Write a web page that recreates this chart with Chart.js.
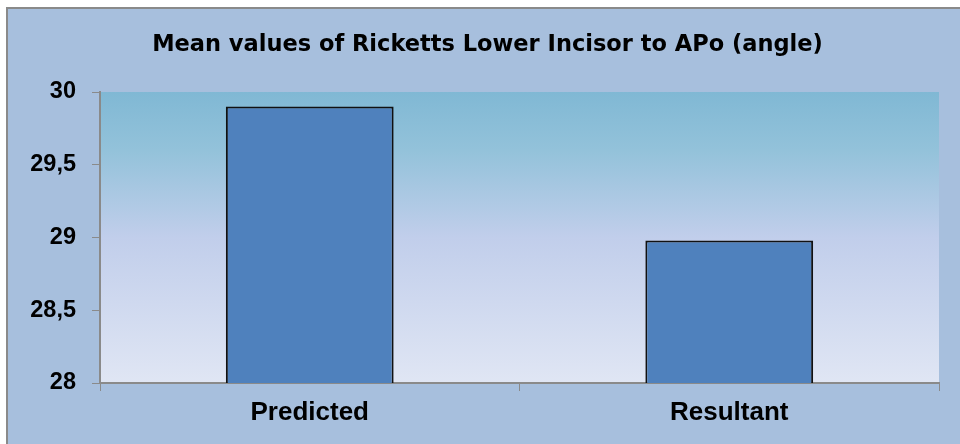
<!DOCTYPE html>
<html>
<head>
<meta charset="utf-8">
<script src="https://cdn.jsdelivr.net/npm/chart.js@4/dist/chart.umd.min.js"></script>
<style>
html,body{margin:0;padding:0;background:#fff;}
#wrap{width:960px;height:444px;position:relative;}
</style>
</head>
<body>
<div id="wrap"><canvas id="c" width="960" height="444"></canvas></div>
<script>
const chartTitle = 'Mean values of Ricketts Lower Incisor to APo (angle)';
const categories = ['Predicted', 'Resultant'];
const meanValues = [29.9, 28.98];
const yTickValues = [28, 28.5, 29, 29.5, 30];
const yTickLabels = ['28', '28,5', '29', '29,5', '30'];

const FONT = "'Liberation Sans', Arial, Helvetica, sans-serif";
const TITLE_FONT = "'DejaVu Sans', 'Liberation Sans', sans-serif";

const framePlugin = {
  id: 'frame',
  afterLayout(chart) {
    const t = chart.titleBlock;
    if (t) { t.left = 36; t.right = 939; }
  },
  beforeDraw(chart) {
    const ctx = chart.ctx;
    ctx.save();
    ctx.fillStyle = '#ffffff';
    ctx.fillRect(0, 0, chart.width, chart.height);
    ctx.fillStyle = '#a7bfdd';
    ctx.fillRect(6, 7, chart.width - 6, chart.height - 7);
    ctx.strokeStyle = '#8a8a8a';
    ctx.lineWidth = 2;
    ctx.beginPath();
    ctx.moveTo(7, chart.height);
    ctx.lineTo(7, 8);
    ctx.lineTo(chart.width, 8);
    ctx.stroke();
    const a = chart.chartArea;
    const g = ctx.createLinearGradient(0, a.top, 0, a.bottom);
    g.addColorStop(0, '#80b8d4');
    g.addColorStop(0.2, '#93c2da');
    g.addColorStop(0.5, '#c1ceeb');
    g.addColorStop(1, '#e0e6f4');
    ctx.fillStyle = g;
    ctx.fillRect(a.left, a.top, a.right - a.left, a.bottom - a.top);
    ctx.restore();
  }
};

new Chart(document.getElementById('c'), {
  type: 'bar',
  data: {
    labels: categories,
    datasets: [{
      data: meanValues,
      backgroundColor: '#4f81bd',
      borderColor: '#111111',
      borderWidth: 2,
      borderSkipped: 'bottom',
      categoryPercentage: 1,
      barPercentage: 0.4
    }]
  },
  options: {
    responsive: false,
    animation: false,
    layout: { padding: { left: 0, right: 21, top: 0, bottom: 0 } },
    plugins: {
      legend: { display: false },
      tooltip: { enabled: false },
      title: {
        display: true,
        text: chartTitle,
        color: '#000',
        font: { family: TITLE_FONT, size: 22.5, weight: 'bold' },
        padding: { top: 32, bottom: 33 }
      }
    },
    scales: {
      x: {
        offset: true,
        grid: { display: true, drawOnChartArea: false, drawTicks: true, tickLength: 8, color: '#8a8a8a', offset: true },
        border: { display: true, color: '#8a8a8a', width: 2 },
        ticks: { color: '#000', font: { family: FONT, size: 26, weight: 'bold' }, padding: 6 },
        afterFit(s) { s.height = 61; }
      },
      y: {
        min: 28,
        max: 30,
        afterBuildTicks(s) { s.ticks = yTickValues.map(v => ({ value: v })); },
        grid: { display: true, drawOnChartArea: false, drawTicks: true, tickLength: 8, color: '#8a8a8a' },
        border: { display: true, color: '#8a8a8a', width: 2 },
        ticks: {
          color: '#000',
          font: { family: FONT, size: 23.5, weight: 'bold' },
          padding: 16,
          callback(v) { const i = yTickValues.indexOf(v); return i >= 0 ? yTickLabels[i] : ''; }
        },
        afterFit(s) { s.width = 100; }
      }
    }
  },
  plugins: [framePlugin]
});
</script>
</body>
</html>
